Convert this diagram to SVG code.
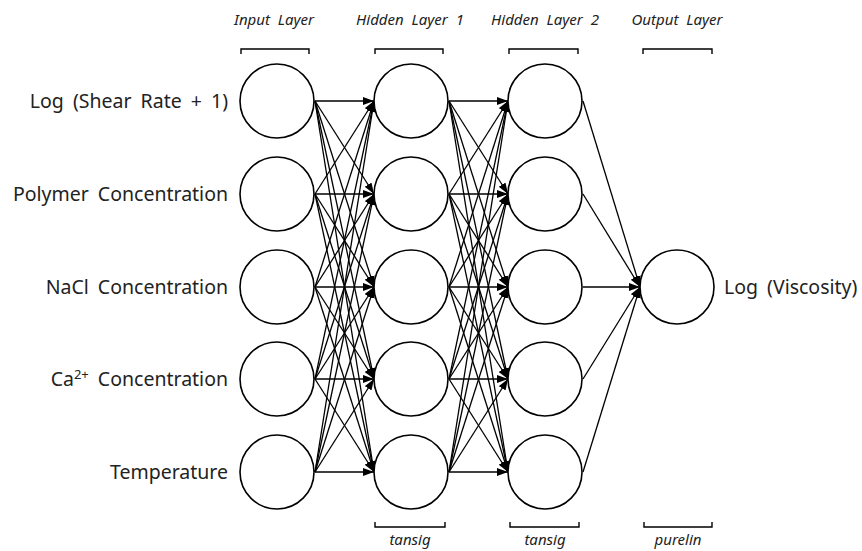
<svg xmlns="http://www.w3.org/2000/svg" width="862" height="551" viewBox="0 0 862 551">
<style>
.n{fill:#fff;stroke:#000;stroke-width:1.6}
.e{stroke:#000;stroke-width:1.3;fill:none;marker-end:url(#ah)}
.b{stroke:#000;stroke-width:1.4;fill:none}
.lab{font-family:"Noto Sans","Open Sans",sans-serif;font-size:19.5px;word-spacing:4px;fill:#222}
.hd{font-family:"Noto Sans","Open Sans",sans-serif;font-size:15px;word-spacing:4px;font-style:italic;fill:#222;text-anchor:middle}
</style>
<defs>
<marker id="ah" markerUnits="userSpaceOnUse" markerWidth="12" markerHeight="10" refX="11" refY="4" orient="auto">
<path d="M0,0 L11,4 L0,8 Z" fill="#000"/>
</marker>
</defs>
<rect width="862" height="551" fill="#fff"/>
<g id="headers">
<text class="hd" x="274" y="25">Input Layer</text>
<text class="hd" x="410" y="25">Hidden Layer 1</text>
<text class="hd" x="545" y="25">Hidden Layer 2</text>
<text class="hd" x="677" y="25">Output Layer</text>
<path class="b" d="M241,54 V49 H309 V54 M375,54 V49 H443 V54 M509,54 V49 H578 V54 M643,54 V49 H712 V54"/>
<path class="b" d="M375,522 V527 H445 V522 M510,522 V527 H579 V522 M644,522 V527 H712 V522"/>
<text class="hd" x="410" y="545">tansig</text>
<text class="hd" x="545" y="545">tansig</text>
<text class="hd" x="678" y="545">purelin</text>
</g>
<g id="connectors">
<path class="e" d="M315,101 L374,101"/><path class="e" d="M315,101 L374,194"/><path class="e" d="M315,101 L374,287"/><path class="e" d="M315,101 L374,379"/><path class="e" d="M315,101 L374,472"/>
<path class="e" d="M315,194 L374,101"/><path class="e" d="M315,194 L374,194"/><path class="e" d="M315,194 L374,287"/><path class="e" d="M315,194 L374,379"/><path class="e" d="M315,194 L374,472"/>
<path class="e" d="M315,287 L374,101"/><path class="e" d="M315,287 L374,194"/><path class="e" d="M315,287 L374,287"/><path class="e" d="M315,287 L374,379"/><path class="e" d="M315,287 L374,472"/>
<path class="e" d="M315,379 L374,101"/><path class="e" d="M315,379 L374,194"/><path class="e" d="M315,379 L374,287"/><path class="e" d="M315,379 L374,379"/><path class="e" d="M315,379 L374,472"/>
<path class="e" d="M315,472 L374,101"/><path class="e" d="M315,472 L374,194"/><path class="e" d="M315,472 L374,287"/><path class="e" d="M315,472 L374,379"/><path class="e" d="M315,472 L374,472"/>
<path class="e" d="M449,101 L508,101"/><path class="e" d="M449,101 L508,194"/><path class="e" d="M449,101 L508,287"/><path class="e" d="M449,101 L508,379"/><path class="e" d="M449,101 L508,472"/>
<path class="e" d="M449,194 L508,101"/><path class="e" d="M449,194 L508,194"/><path class="e" d="M449,194 L508,287"/><path class="e" d="M449,194 L508,379"/><path class="e" d="M449,194 L508,472"/>
<path class="e" d="M449,287 L508,101"/><path class="e" d="M449,287 L508,194"/><path class="e" d="M449,287 L508,287"/><path class="e" d="M449,287 L508,379"/><path class="e" d="M449,287 L508,472"/>
<path class="e" d="M449,379 L508,101"/><path class="e" d="M449,379 L508,194"/><path class="e" d="M449,379 L508,287"/><path class="e" d="M449,379 L508,379"/><path class="e" d="M449,379 L508,472"/>
<path class="e" d="M449,472 L508,101"/><path class="e" d="M449,472 L508,194"/><path class="e" d="M449,472 L508,287"/><path class="e" d="M449,472 L508,379"/><path class="e" d="M449,472 L508,472"/>
<path class="e" d="M583,101 L640,287"/><path class="e" d="M583,194 L640,287"/><path class="e" d="M583,287 L640,287"/><path class="e" d="M583,379 L640,287"/><path class="e" d="M583,472 L640,287"/>
</g>
<g id="input">
<g id="in1"><circle class="n" cx="277" cy="101" r="37"/><text class="lab" x="228" y="108" text-anchor="end">Log (Shear Rate + 1)</text></g>
<g id="in2"><circle class="n" cx="277" cy="194" r="37"/><text class="lab" x="228" y="201" text-anchor="end">Polymer Concentration</text></g>
<g id="in3"><circle class="n" cx="277" cy="287" r="37"/><text class="lab" x="228" y="294" text-anchor="end">NaCl Concentration</text></g>
<g id="in4"><circle class="n" cx="277" cy="379" r="37"/><text class="lab" x="228" y="386" text-anchor="end">Ca<tspan font-size="13" dy="-7">2+</tspan><tspan dy="7"> Concentration</tspan></text></g>
<g id="in5"><circle class="n" cx="277" cy="472" r="37"/><text class="lab" x="228" y="479" text-anchor="end">Temperature</text></g>
</g>
<g id="hidden1">
<g id="h1a"><circle class="n" cx="411" cy="101" r="37"/></g>
<g id="h1b"><circle class="n" cx="411" cy="194" r="37"/></g>
<g id="h1c"><circle class="n" cx="411" cy="287" r="37"/></g>
<g id="h1d"><circle class="n" cx="411" cy="379" r="37"/></g>
<g id="h1e"><circle class="n" cx="411" cy="472" r="37"/></g>
</g>
<g id="hidden2">
<g id="h2a"><circle class="n" cx="545" cy="101" r="37"/></g>
<g id="h2b"><circle class="n" cx="545" cy="194" r="37"/></g>
<g id="h2c"><circle class="n" cx="545" cy="287" r="37"/></g>
<g id="h2d"><circle class="n" cx="545" cy="379" r="37"/></g>
<g id="h2e"><circle class="n" cx="545" cy="472" r="37"/></g>
</g>
<g id="output">
<circle class="n" cx="677" cy="287" r="37"/>
<text class="lab" x="724" y="294">Log (Viscosity)</text>
</g>
</svg>
